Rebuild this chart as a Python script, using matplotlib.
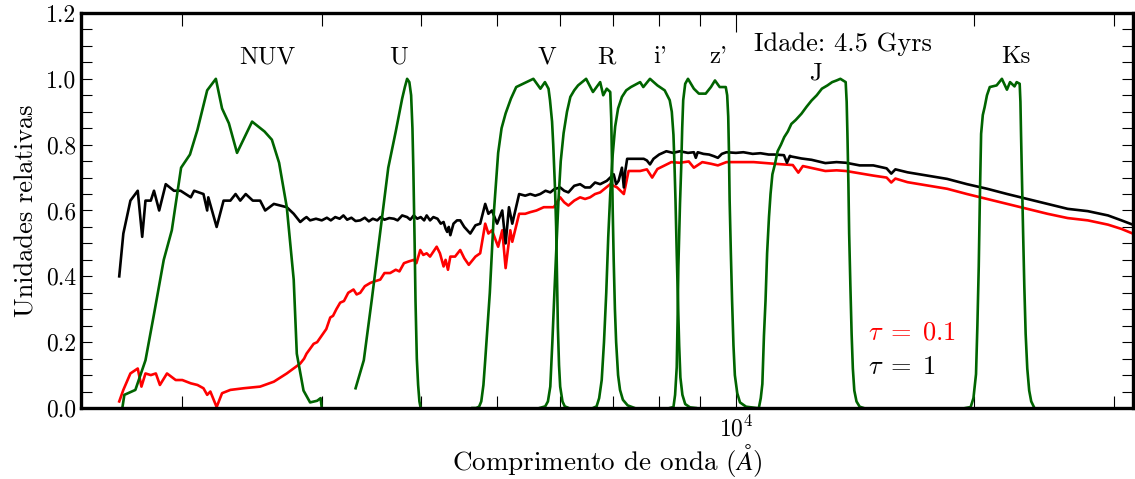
import matplotlib
matplotlib.use("Agg")
import matplotlib.pyplot as plt
from matplotlib.ticker import MultipleLocator, FormatStrFormatter, LogLocator, NullFormatter

plt.rcParams['font.family'] = 'cmr10'
plt.rcParams['mathtext.fontset'] = 'cm'
plt.rcParams['axes.formatter.use_mathtext'] = True

# SED, tau = 1 (black)
wl_tau1 = [1665, 1685, 1720, 1757, 1780, 1797, 1825, 1842, 1870, 1906, 1952, 1990, 2050, 2070,
           2127, 2150, 2157, 2210, 2255, 2300, 2335, 2367, 2405, 2455, 2508, 2545, 2610, 2710,
           2765, 2818, 2850, 2870, 2900, 2950, 3000, 3045, 3080, 3120, 3160, 3195, 3230, 3270,
           3310, 3355, 3400, 3440, 3480, 3525, 3560, 3600, 3650, 3700, 3740, 3790, 3845, 3880,
           3920, 3960, 4000, 4040, 4070, 4110, 4150, 4200, 4240, 4275, 4300, 4320, 4340, 4360,
           4400, 4445, 4487, 4540, 4620, 4690, 4755, 4825, 4870, 4920, 4995, 5070, 5120, 5170,
           5220, 5325, 5420, 5500, 5580, 5661, 5750, 5830, 5900, 6000, 6070, 6145, 6250, 6358,
           6450, 6545, 6640, 6740, 6870, 6940, 7010, 7060, 7110, 7180, 7220, 7250, 7290,
           7430, 7650, 7720, 7790, 7870, 8000, 8170, 8330, 8500, 8700, 8850, 8900, 8950, 9100,
           9250, 9380, 9490, 9600, 9730, 10000, 10220, 10500, 10740, 11000, 11180, 11500, 11600,
           11700, 11750, 12100, 12460, 12970, 13400, 13770, 14330, 14910, 15500, 15710,
           15900, 16470, 17430, 18480, 19580, 20760, 22010, 23340, 24740, 26240, 27820, 29500,
           30680, 31700]
fl_tau1 = [0.40, 0.53, 0.63, 0.66, 0.52, 0.63, 0.63, 0.66, 0.60, 0.68, 0.66, 0.66, 0.64, 0.66,
           0.65, 0.60, 0.64, 0.55, 0.63, 0.63, 0.65, 0.63, 0.65, 0.63, 0.63, 0.60, 0.62, 0.61,
           0.59, 0.565, 0.575, 0.58, 0.57, 0.575, 0.57, 0.578, 0.57, 0.58, 0.575, 0.585, 0.572, 0.578,
           0.568, 0.57, 0.578, 0.567, 0.575, 0.57, 0.58, 0.572, 0.577, 0.575, 0.57, 0.585, 0.58, 0.572,
           0.585, 0.575, 0.58, 0.57, 0.585, 0.57, 0.58, 0.575, 0.56, 0.565, 0.545, 0.535, 0.55, 0.525,
           0.56, 0.57, 0.57, 0.55, 0.53, 0.555, 0.56, 0.62, 0.59, 0.60, 0.56, 0.60, 0.50, 0.61,
           0.56, 0.65, 0.645, 0.65, 0.645, 0.65, 0.66, 0.655, 0.665, 0.67, 0.66, 0.655, 0.675, 0.68,
           0.67, 0.67, 0.685, 0.68, 0.69, 0.70, 0.71, 0.68, 0.69, 0.73, 0.67, 0.72, 0.757,
           0.757, 0.757, 0.752, 0.74, 0.757, 0.77, 0.78, 0.775, 0.78, 0.775, 0.777, 0.76, 0.777, 0.772,
           0.77, 0.765, 0.76, 0.772, 0.777, 0.775, 0.777, 0.772, 0.774, 0.77, 0.77, 0.768, 0.745,
           0.766, 0.764, 0.758, 0.754, 0.744, 0.747, 0.745, 0.737, 0.737, 0.728, 0.712,
           0.725, 0.716, 0.706, 0.696, 0.68, 0.666, 0.65, 0.635, 0.62, 0.605, 0.598, 0.585,
           0.57, 0.557]

# SED, tau = 0.1 (red)
wl_tau01 = [1665, 1685, 1720, 1757, 1776, 1797, 1825, 1852, 1874, 1913, 1962, 2000, 2050, 2090,
            2127, 2150, 2170, 2210, 2245, 2300, 2390, 2508, 2610, 2710, 2818, 2850, 2870, 2900,
            2930, 2960, 2990, 3010, 3040, 3075, 3100, 3130, 3165, 3200, 3240, 3290, 3320, 3355,
            3400, 3455, 3500, 3556, 3600, 3660, 3720, 3760, 3810, 3860, 3920, 3950, 3995, 4030,
            4070, 4110, 4150, 4190, 4230, 4275, 4300, 4330, 4360, 4420, 4487, 4540, 4600, 4690,
            4755, 4825, 4870, 4920, 5010, 5070, 5120, 5190, 5220, 5325, 5420, 5500, 5600, 5720,
            5890, 6000, 6070, 6145, 6250, 6358, 6450, 6545, 6640, 6740, 6940, 7080, 7220, 7320,
            7570, 7720, 7840, 7960, 8100, 8290, 8500, 8720, 8850, 9070, 9300, 9490, 9730, 10000,
            10530, 11180, 11800, 11990, 12150, 12970, 13400, 13770, 14910, 15500, 15710, 15900,
            16470, 17430, 18480, 19580, 20760, 22010, 23340, 24740, 26240, 27820, 29500, 30680,
            31700]
fl_tau01 = [0.02, 0.055, 0.105, 0.12, 0.065, 0.105, 0.10, 0.105, 0.07, 0.105, 0.085, 0.085, 0.075, 0.07,
            0.06, 0.04, 0.05, 0.003, 0.045, 0.055, 0.06, 0.065, 0.08, 0.105, 0.135, 0.15, 0.165, 0.18,
            0.195, 0.20, 0.215, 0.225, 0.24, 0.275, 0.28, 0.30, 0.32, 0.325, 0.35, 0.36, 0.345, 0.35,
            0.37, 0.38, 0.385, 0.39, 0.41, 0.41, 0.42, 0.415, 0.44, 0.445, 0.45, 0.44, 0.48, 0.465,
            0.47, 0.46, 0.475, 0.49, 0.47, 0.43, 0.45, 0.42, 0.46, 0.46, 0.48, 0.455, 0.435, 0.46,
            0.47, 0.56, 0.53, 0.54, 0.49, 0.54, 0.425, 0.54, 0.505, 0.59, 0.59, 0.595, 0.60, 0.61,
            0.61, 0.64, 0.625, 0.615, 0.63, 0.64, 0.635, 0.64, 0.65, 0.655, 0.68, 0.67, 0.65, 0.72,
            0.72, 0.725, 0.70, 0.726, 0.735, 0.747, 0.745, 0.749, 0.73, 0.747, 0.742, 0.737, 0.747, 0.747,
            0.747, 0.742, 0.738, 0.715, 0.735, 0.72, 0.722, 0.72, 0.706, 0.70, 0.685, 0.697,
            0.686, 0.676, 0.666, 0.65, 0.635, 0.62, 0.605, 0.59, 0.577, 0.57, 0.557, 0.544,
            0.53]

# filter transmission curves
nuv_wl = [1680, 1690, 1745, 1797, 1842, 1895, 1940, 1993, 2045, 2090, 2150, 2205, 2245, 2290,
          2345, 2450, 2540, 2595, 2650, 2710, 2765, 2790, 2845, 2900, 2960, 2990, 3000]
nuv_tr = [0.0, 0.04, 0.055, 0.145, 0.285, 0.45, 0.54, 0.73, 0.77, 0.845, 0.965, 1.0, 0.91, 0.865,
          0.775, 0.87, 0.84, 0.815, 0.745, 0.61, 0.39, 0.165, 0.053, 0.017, 0.022, 0.03, 0.0]

u_wl = [3310, 3390, 3470, 3556, 3640, 3720, 3790, 3820, 3845, 3870, 3890, 3905, 3915, 3930,
        3940, 3955, 3970, 3985, 4000]
u_tr = [0.06, 0.145, 0.33, 0.535, 0.73, 0.84, 0.94, 0.975, 1.0, 0.99, 0.95, 0.85, 0.73, 0.5,
        0.325, 0.15, 0.07, 0.02, 0.0]

v_wl = [4650, 4700, 4740, 4770, 4800, 4825, 4890, 4950, 5010, 5060, 5120, 5200, 5280, 5440,
        5550, 5665, 5740, 5800, 5825, 5860, 5880, 5910, 5930, 5960, 5980, 6000, 6040, 6080, 6150]
v_tr = [0.0, 0.0, 0.004, 0.02, 0.07, 0.145, 0.35, 0.60, 0.775, 0.85, 0.895, 0.94, 0.975, 0.99,
        1.0, 0.97, 0.99, 0.97, 0.935, 0.87, 0.80, 0.67, 0.55, 0.245, 0.13, 0.065, 0.02, 0.005, 0.0]

r_wl = [5650, 5745, 5790, 5830, 5865, 5900, 5970, 6010, 6060, 6120, 6180, 6250, 6320, 6470,
        6600, 6740, 6800, 6870, 6940, 6960, 6975, 6990, 7010, 7035, 7060, 7100, 7140, 7200,
        7300, 7450]
r_tr = [0.0, 0.005, 0.02, 0.065, 0.2, 0.35, 0.63, 0.75, 0.835, 0.9, 0.945, 0.965, 0.98, 1.0,
        0.96, 0.99, 0.95, 0.97, 0.96, 0.88, 0.75, 0.6, 0.45, 0.3, 0.2, 0.1, 0.055, 0.025,
        0.008, 0.0]

i_wl = [6600, 6670, 6720, 6770, 6815, 6860, 6900, 6940, 6990, 7040, 7100, 7180, 7270, 7370,
        7570, 7640, 7790, 7960, 8130, 8250, 8300, 8340, 8365, 8390, 8420, 8450, 8480, 8510,
        8560, 8630, 8750, 8900]
i_tr = [0.0, 0.005, 0.03, 0.085, 0.2, 0.35, 0.52, 0.65, 0.77, 0.855, 0.91, 0.945, 0.965, 0.975,
        0.99, 0.975, 1.0, 0.98, 0.965, 0.935, 0.9, 0.83, 0.74, 0.63, 0.47, 0.325, 0.19, 0.093,
        0.04, 0.012, 0.002, 0.0]

z_wl = [8250, 8340, 8380, 8420, 8440, 8460, 8500, 8530, 8555, 8580, 8630, 8700, 8850, 8980,
        9160, 9300, 9410, 9540, 9710, 9750, 9780, 9800, 9820, 9855, 9890, 9930, 9970, 10040,
        10120, 10300, 10620]
z_tr = [0.0, 0.003, 0.04, 0.124, 0.26, 0.43, 0.62, 0.73, 0.85, 0.935, 0.985, 1.0, 0.97, 0.955,
        0.955, 0.975, 0.995, 0.975, 0.975, 0.95, 0.885, 0.78, 0.63, 0.47, 0.326, 0.19, 0.10, 0.045,
        0.017, 0.004, 0.0]

j_wl = [10690, 10750, 10800, 10850, 10900, 10950, 11010, 11060, 11120, 11200, 11290, 11400,
        11510, 11630, 11750, 11900, 12100, 12280, 12460, 12650, 12840, 13050, 13230, 13400,
        13550, 13760, 13800, 13830, 13870, 13900, 13950, 14000, 14050, 14110, 14200, 14330, 14500]
j_tr = [0.0, 0.03, 0.073, 0.22, 0.326, 0.47, 0.58, 0.65, 0.71, 0.74, 0.78, 0.80,
        0.823, 0.84, 0.863, 0.875, 0.894, 0.915, 0.934, 0.95, 0.97, 0.98, 0.99, 0.995,
        1.0, 0.99, 0.93, 0.833, 0.68, 0.53, 0.37, 0.225, 0.12, 0.053, 0.02, 0.004, 0.0]

ks_wl = [19500, 19790, 19950, 20100, 20180, 20260, 20330, 20400, 20500, 20610, 20750, 20920,
         21340, 21670, 21990, 22190, 22480, 22620, 22820, 22870, 22910, 22980, 23050, 23130,
         23220, 23330, 23460, 23600, 23820]
ks_tr = [0.0, 0.003, 0.03, 0.103, 0.25, 0.43, 0.65, 0.833, 0.89, 0.914, 0.95, 0.975,
         0.98, 1.0, 0.967, 0.99, 0.977, 0.99, 0.985, 0.93, 0.833, 0.68, 0.53, 0.37,
         0.225, 0.12, 0.053, 0.02, 0.0]

filter_names = ['NUV', 'U', 'V', 'R', "i'", "z'", 'J', 'Ks']
label_wl = [2560, 3750, 5780, 6860, 8020, 9500, 12600, 22540]
label_y = [1.065, 1.065, 1.065, 1.065, 1.065, 1.065, 1.015, 1.065]

fig = plt.figure(figsize=(11.35, 4.79), dpi=100)
ax = fig.add_axes([0.0714, 0.1482, 0.9266, 0.8247])

ax.plot(wl_tau01, fl_tau01, color='red', lw=1.9)
ax.plot(wl_tau1, fl_tau1, color='black', lw=1.9)

green = '#006400'
for wl, tr in [(nuv_wl, nuv_tr), (u_wl, u_tr), (v_wl, v_tr), (r_wl, r_tr),
               (i_wl, i_tr), (z_wl, z_tr), (j_wl, j_tr), (ks_wl, ks_tr)]:
    ax.plot(wl, tr, color=green, lw=1.9)

for name, x, y in zip(filter_names, label_wl, label_y):
    ax.text(x, y, name, ha='center', va='center', fontsize=18)

ax.text(13660, 1.106, 'Idade: 4.5 Gyrs', ha='center', va='center', fontsize=19)
ax.text(14690, 0.228, r'$\tau\;=\;0.1$', color='red', ha='left', va='center', fontsize=19)
ax.text(14690, 0.125, r'$\tau\;=\;1$', color='black', ha='left', va='center', fontsize=19)

ax.set_xscale('log')
ax.set_xlim(1490, 31700)
ax.set_ylim(0, 1.2)

ax.yaxis.set_major_locator(MultipleLocator(0.2))
ax.yaxis.set_minor_locator(MultipleLocator(0.05))
ax.yaxis.set_major_formatter(FormatStrFormatter('%.1f'))
ax.xaxis.set_major_locator(LogLocator(base=10))
ax.xaxis.set_minor_locator(LogLocator(base=10, subs=range(2, 10)))
ax.xaxis.set_minor_formatter(NullFormatter())

ax.tick_params(which='both', direction='in', top=True, right=True, width=0.8, labelsize=17)
ax.tick_params(axis='y', which='both', length=8)
ax.tick_params(axis='x', which='major', length=14, pad=6)
ax.tick_params(axis='x', which='minor', length=9)
for s in ax.spines.values():
    s.set_linewidth(2.4)

ax.set_xlabel(r'Comprimento de onda ($\AA$)', fontsize=19.5, labelpad=0)
ax.set_ylabel('Unidades relativas', fontsize=19, labelpad=5)

fig.savefig('out.png', dpi=100)
